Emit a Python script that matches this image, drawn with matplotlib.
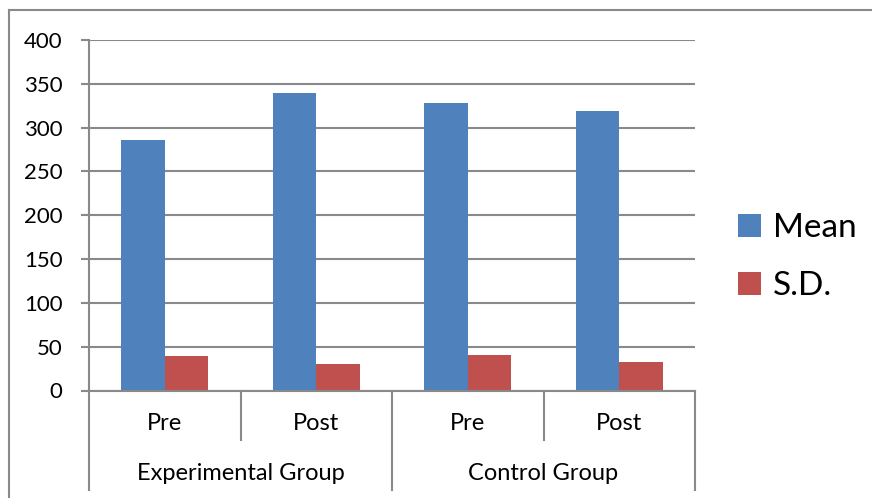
import matplotlib
matplotlib.use("Agg")
import matplotlib.pyplot as plt
from matplotlib.lines import Line2D
from matplotlib.transforms import blended_transform_factory

plt.rcParams['font.family'] = ['Lato', 'DejaVu Sans']

# Data
groups = ["Experimental Group", "Control Group"]
phases = ["Pre", "Post", "Pre", "Post"]
series_names = ["Mean", "S.D."]
mean_values = [286, 339, 328, 319]
sd_values = [39, 30.5, 40, 33]
y_ticks = [0, 50, 100, 150, 200, 250, 300, 350, 400]

blue = "#4F81BD"
red = "#C0504D"
grey = "#898989"

W, H = 872, 498
fig = plt.figure(figsize=(W / 100, H / 100), dpi=100)
ax = fig.add_axes([89 / W, 1 - 390.5 / H, (695 - 89) / W, (390.5 - 40) / H])

n = len(phases)
x = list(range(n))
bw = 1 / 3.5
ax.bar([i - bw / 2 for i in x], mean_values, width=bw, color=blue,
       label=series_names[0], zorder=3)
ax.bar([i + bw / 2 for i in x], sd_values, width=bw, color=red,
       label=series_names[1], zorder=3)

ax.set_xlim(-0.5, n - 0.5)
ax.set_ylim(0, 400)
ax.set_yticks(y_ticks)
ax.set_yticklabels([str(v) for v in y_ticks], fontsize=16)
ax.set_xticks([])
ax.yaxis.grid(True, color=grey, linewidth=1.5, zorder=0)
ax.tick_params(axis='y', length=6, width=1.5, color=grey, pad=13)
for s in ["top", "right"]:
    ax.spines[s].set_visible(False)
for s in ["left", "bottom"]:
    ax.spines[s].set_color(grey)
    ax.spines[s].set_linewidth(1.5)
    ax.spines[s].set_zorder(4)

# Two-level category axis
trans = blended_transform_factory(ax.transData, ax.transAxes)
short_end = (390.5 - 440) / 350.5
long_end = (390.5 - 490) / 350.5
for b in range(n + 1):
    xb = b - 0.5
    y_end = long_end if b % 2 == 0 else short_end
    ax.add_line(Line2D([xb, xb], [0, y_end], transform=trans, color=grey,
                       linewidth=1.5, clip_on=False))
for i, p in enumerate(phases):
    ax.text(i, (390.5 - 424) / 350.5, p, transform=trans, ha='center',
            va='center', fontsize=17)
for g, name in enumerate(groups):
    ax.text(2 * g + 0.5, (390.5 - 473) / 350.5, name, transform=trans,
            ha='center', va='center', fontsize=17)

# Legend
fig.legend(loc='center left', bbox_to_anchor=(728 / W, 1 - 257 / H),
           frameon=False, fontsize=24, handlelength=0.7, handleheight=0.7,
           handletextpad=0.35, labelspacing=0.85, borderaxespad=0,
           borderpad=0.3)

# Chart frame
fig.add_artist(Line2D([9 / W, 1], [1 - 10.5 / H, 1 - 10.5 / H],
                      transform=fig.transFigure, color=grey, linewidth=1.5))
fig.add_artist(Line2D([9 / W, 9 / W], [0, 1 - 10.5 / H],
                      transform=fig.transFigure, color=grey, linewidth=1.5))

fig.savefig("out.png", dpi=100)
